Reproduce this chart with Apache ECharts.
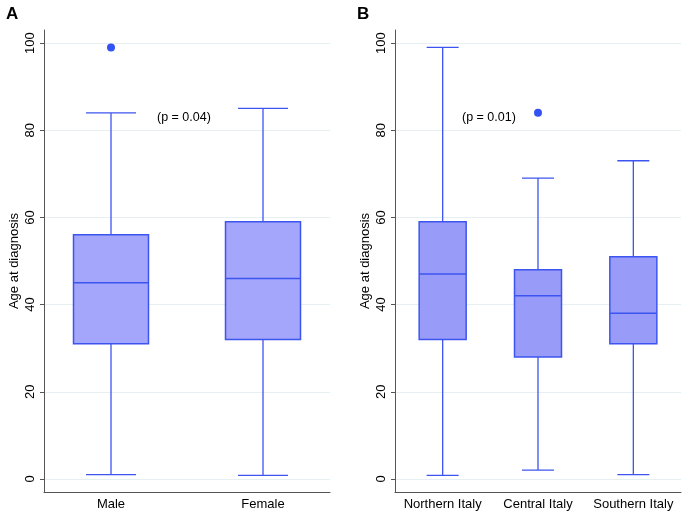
<!DOCTYPE html>
<html>
<head>
<meta charset="utf-8">
<script src="https://cdn.jsdelivr.net/npm/echarts@6/dist/echarts.min.js"></script>
<style>
  html, body { margin: 0; padding: 0; background: #fff; }
  #chart { width: 685px; height: 513px; }
</style>
</head>
<body>
<div id="chart"></div>
<script>
// panel A: sex
var sexCats = ["Male", "Female"];
// [min, Q1, median, Q3, max]
var sexBoxes = [
  [1, 31, 45, 56, 84],
  [0.8, 32, 46, 59, 85]
];
var sexOutliers = [["Male", 99]];

// panel B: area
var areaCats = ["Northern Italy", "Central Italy", "Southern Italy"];
var areaBoxes = [
  [0.8, 32, 47, 59, 99],
  [2, 28, 42, 48, 69],
  [1, 31, 38, 51, 73]
];
var areaOutliers = [["Central Italy", 84]];

var yTicks = [0, 20, 40, 60, 80, 100];
var yMin = -3, yMax = 103;

var FONT = "Liberation Sans, Arial, Helvetica, sans-serif";
var STROKE = "#3d55f0";
var AXIS = "#555";

// whisker series: collapsed to the median, hidden under the wide box,
// so only whiskers and the narrow caps show
function whiskerData(rows) {
  return rows.map(function (r) { return [r[0], r[2], r[2], r[2], r[4]]; });
}
// box series: no whiskers
function boxData(rows) {
  return rows.map(function (r) { return [r[1], r[1], r[2], r[3], r[3]]; });
}

function visibleY(gridIndex) {
  return {
    type: "value", gridIndex: gridIndex, min: yMin, max: yMax,
    name: "Age at diagnosis", nameLocation: "middle", nameGap: 23,
    nameTextStyle: { color: "#000", fontSize: 13, fontFamily: FONT },
    axisLine: { show: true, lineStyle: { color: AXIS, width: 1 } },
    axisTick: { show: true, length: 4, customValues: yTicks, lineStyle: { color: AXIS } },
    axisLabel: { customValues: yTicks, rotate: 90, margin: 7, color: "#000", fontSize: 13, fontFamily: FONT },
    splitLine: { show: true, lineStyle: { color: "#e6eff1", width: 1 } }
  };
}
function hiddenY(gridIndex) {
  return {
    type: "value", gridIndex: gridIndex, min: yMin, max: yMax,
    axisLine: { show: false }, axisTick: { show: false },
    axisLabel: { show: false }, splitLine: { show: false }
  };
}
function catX(gridIndex, cats, showLine, showLabel) {
  return {
    type: "category", gridIndex: gridIndex, data: cats,
    axisLine: { show: showLine, onZero: false, lineStyle: { color: AXIS, width: 1 } },
    axisTick: { show: false },
    axisLabel: { show: showLabel, interval: 0, margin: 6, color: "#000", fontSize: 13, fontFamily: FONT },
    splitLine: { show: false }
  };
}

var chart = echarts.init(document.getElementById("chart"));
var option = {
  animation: false,
  backgroundColor: "#fff",
  title: [
    { text: "A", left: 1, top: 1, textStyle: { fontSize: 17, fontWeight: "bold", color: "#000", fontFamily: FONT } },
    { text: "B", left: 352, top: 1, textStyle: { fontSize: 17, fontWeight: "bold", color: "#000", fontFamily: FONT } }
  ],
  grid: [
    { left: 44, top: 30, width: 286, height: 462 },   // frame A
    { left: 35, top: 30, width: 304, height: 462 },   // data A
    { left: 395, top: 30, width: 286, height: 462 }   // B
  ],
  xAxis: [
    catX(0, [], true, false),
    catX(1, sexCats, false, true),
    catX(1, sexCats, false, false),
    catX(2, areaCats, true, true),
    catX(2, areaCats, false, false)
  ],
  yAxis: [visibleY(0), hiddenY(1), visibleY(2)],
  graphic: [
    { type: "text", left: 157, top: 111, style: { text: "(p = 0.04)", fontSize: 12.5, fontFamily: FONT, fill: "#000" } },
    { type: "text", left: 462, top: 111, style: { text: "(p = 0.01)", fontSize: 12.5, fontFamily: FONT, fill: "#000" } }
  ],
  series: [
    {
      type: "boxplot", xAxisIndex: 2, yAxisIndex: 1, z: 2,
      boxWidth: [50, 50], data: whiskerData(sexBoxes),
      itemStyle: { color: "rgba(0,0,0,0)", borderColor: STROKE, borderWidth: 1.3 }
    },
    {
      type: "boxplot", xAxisIndex: 1, yAxisIndex: 1, z: 3,
      boxWidth: [75, 75], data: boxData(sexBoxes),
      itemStyle: { color: "#a3a6fb", borderColor: STROKE, borderWidth: 1.5 }
    },
    {
      type: "scatter", xAxisIndex: 1, yAxisIndex: 1, z: 4,
      symbolSize: 8, data: sexOutliers,
      itemStyle: { color: "#3352f4", opacity: 1 }
    },
    {
      type: "boxplot", xAxisIndex: 4, yAxisIndex: 2, z: 2,
      boxWidth: [32, 32], data: whiskerData(areaBoxes),
      itemStyle: { color: "rgba(0,0,0,0)", borderColor: STROKE, borderWidth: 1.3 }
    },
    {
      type: "boxplot", xAxisIndex: 3, yAxisIndex: 2, z: 3,
      boxWidth: [47, 47], data: boxData(areaBoxes),
      itemStyle: { color: "#989bf8", borderColor: STROKE, borderWidth: 1.5 }
    },
    {
      type: "scatter", xAxisIndex: 3, yAxisIndex: 2, z: 4,
      symbolSize: 8, data: areaOutliers,
      itemStyle: { color: "#3352f4", opacity: 1 }
    }
  ]
};
chart.setOption(option);
</script>
</body>
</html>
